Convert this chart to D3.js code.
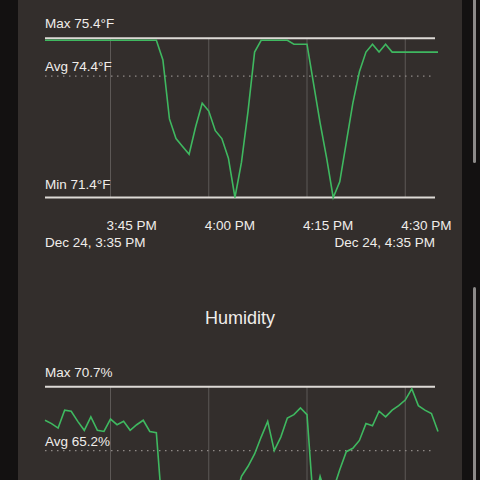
<!DOCTYPE html>
<html>
<head>
<meta charset="utf-8">
<script src="https://cdn.jsdelivr.net/npm/d3@7"></script>
<style>
  html, body { margin: 0; padding: 0; background: #131111; }
  svg { display: block; }
  text { font-family: "Liberation Sans", Arial, sans-serif; }
</style>
</head>
<body>
<svg id="chart" width="480" height="480"></svg>
<script>
// ---- Data ----
const startTime = new Date(2023, 11, 24, 15, 35);   // Dec 24, 3:35 PM
const endTime   = new Date(2023, 11, 24, 16, 35);   // Dec 24, 4:35 PM
const startLabel = "Dec 24, 3:35 PM";
const endLabel   = "Dec 24, 4:35 PM";
const tickLabels = ["3:45 PM", "4:00 PM", "4:15 PM", "4:30 PM"];

// temperature (°F), one sample per minute from 3:35 PM
const temperature = [
  75.4, 75.4, 75.4, 75.4, 75.4, 75.4, 75.4, 75.4, 75.4, 75.4,
  75.4, 75.4, 75.4, 75.4, 75.4, 75.4, 75.4, 75.4, 74.9, 73.4,
  72.9, 72.7, 72.5, 73.2, 73.8, 73.6, 73.1, 72.9, 72.4, 71.4,
  72.3, 73.6, 75.1, 75.4, 75.4, 75.4, 75.4, 75.4, 75.3, 75.3,
  75.3, 74.3, 73.3, 72.4, 71.4, 71.8, 72.8, 73.8, 74.6, 75.1,
  75.3, 75.1, 75.3, 75.1, 75.1, 75.1, 75.1, 75.1, 75.1, 75.1,
  75.1
];
const tempStats = { max: 75.4, avg: 74.4, min: 71.4 };

// humidity (%), one sample per minute from 3:35 PM
const humidity = [
  67.9, 67.6, 67.2, 68.8, 68.7, 67.8, 67.0, 68.2, 67.0, 66.9,
  68.0, 67.5, 67.8, 67.0, 67.5, 67.9, 66.9, 66.8, 59.2, 58.4,
  57.9, 57.4, 57.0, 56.7, 57.1, 57.6, 58.3, 59.1, 60.0, 60.9,
  62.9, 63.8, 64.9, 66.4, 67.8, 65.2, 66.4, 68.1, 68.4, 69.0,
  68.4, 60.3, 62.9, 61.0, 61.7, 63.5, 65.1, 65.4, 66.1, 67.6,
  67.4, 68.7, 68.2, 68.8, 69.2, 69.7, 70.7, 69.2, 68.8, 68.5,
  66.9
];
const humStats = { max: 70.7, avg: 65.2, min: 56.7 };
const humTitle = "Humidity";

// ---- Drawing ----
const svg = d3.select("#chart");
const W = 480, H = 480;
const FS = 13.5;

// page background: dark side strips + brown card
svg.append("rect").attr("x", 0).attr("y", 0).attr("width", W).attr("height", H).attr("fill", "#131111");
svg.append("rect").attr("x", 18).attr("y", 0).attr("width", 444).attr("height", H).attr("fill", "#332e2c");
// scrollbar thumbs
svg.append("rect").attr("x", 473).attr("y", -4).attr("width", 3).attr("height", 167).attr("rx", 1.5).attr("fill", "#8c8a89");
svg.append("rect").attr("x", 473).attr("y", 287).attr("width", 3).attr("height", 200).attr("rx", 1.5).attr("fill", "#8c8a89");

const x = d3.scaleTime().domain([startTime, endTime]).range([45, 438]);
const lineEnd = 435;
const ticks = x.ticks(d3.timeMinute.every(15)).filter(t => t > startTime && t < endTime);

const TEXT = "#f0edea";
const WHITE_LINE = "#dedad6";
const GRID = "#5d5856";
const GREEN = "#3fb860";

function drawPanel(values, stats, unit, yRange, opts) {
  const g = svg.append("g");
  const y = d3.scaleLinear().domain([stats.min, stats.max]).range(yRange);
  const times = values.map((_, i) => d3.timeMinute.offset(startTime, i));
  const yMaxLine = y(stats.max) - 2;
  const yMinLine = y(stats.min);
  const yAvgLine = y(d3.mean(values));

  // vertical grid lines
  g.selectAll("line.grid").data(ticks).join("line")
    .attr("class", "grid")
    .attr("x1", d => x(d)).attr("x2", d => x(d))
    .attr("y1", yMaxLine).attr("y2", yMinLine)
    .attr("stroke", GRID).attr("stroke-width", 1);

  // avg dotted line
  g.append("line")
    .attr("x1", x(startTime)).attr("x2", lineEnd)
    .attr("y1", yAvgLine).attr("y2", yAvgLine)
    .attr("stroke", "#8f8986").attr("stroke-width", 1.3)
    .attr("stroke-dasharray", "1.5,4.5");

  // max / min lines
  [yMaxLine, yMinLine].forEach(yy => {
    g.append("line")
      .attr("x1", x(startTime)).attr("x2", lineEnd)
      .attr("y1", yy).attr("y2", yy)
      .attr("stroke", WHITE_LINE).attr("stroke-width", 2);
  });

  // data line
  const line = d3.line().x((d, i) => x(times[i])).y(d => y(d));
  g.append("path").datum(values)
    .attr("d", line)
    .attr("fill", "none")
    .attr("stroke", GREEN)
    .attr("stroke-width", 1.6)
    .attr("stroke-linejoin", "miter");

  // labels
  const lab = (txt, yy) => g.append("text")
    .attr("x", x(startTime)).attr("y", yy)
    .attr("fill", TEXT).attr("font-size", FS).text(txt);
  lab(`Max ${stats.max}${unit}`, yMaxLine - 10);
  lab(`Avg ${stats.avg}${unit}`, yAvgLine - 5);
  if (opts.axis) {
    lab(`Min ${stats.min}${unit}`, yMinLine - 9);
    g.selectAll("text.tick").data(ticks).join("text")
      .attr("class", "tick")
      .attr("x", d => x(d) - 4).attr("y", yMinLine + 32)
      .attr("fill", TEXT).attr("font-size", FS)
      .text((d, i) => tickLabels[i]);
    g.append("text").attr("x", x(startTime)).attr("y", yMinLine + 49)
      .attr("fill", TEXT).attr("font-size", FS).text(startLabel);
    g.append("text").attr("x", lineEnd).attr("y", yMinLine + 49)
      .attr("text-anchor", "end")
      .attr("fill", TEXT).attr("font-size", FS).text(endLabel);
  }
}

drawPanel(temperature, tempStats, "°F", [197.5, 40.3], { axis: true });

svg.append("text").attr("x", 240).attr("y", 324)
  .attr("text-anchor", "middle").attr("fill", TEXT)
  .attr("font-size", 18).text(humTitle);

// the humidity panel continues below the visible window (min line and axis are scrolled out of view)
drawPanel(humidity, humStats, "%", [546, 388.8], { axis: false });
</script>
</body>
</html>
